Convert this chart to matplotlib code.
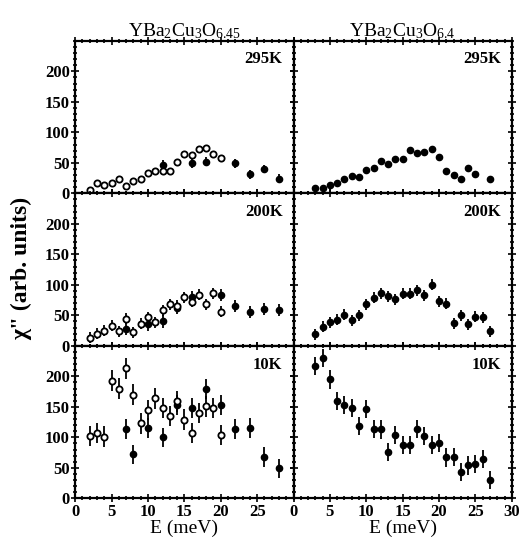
import matplotlib.pyplot as plt
from matplotlib.ticker import MultipleLocator

plt.rcParams["font.family"] = ["Liberation Serif", "DejaVu Serif"]
plt.rcParams["font.weight"] = "bold"
plt.rcParams["mathtext.default"] = "regular"

titles = ["YBa$_2$Cu$_3$O$_{6.45}$", "YBa$_2$Cu$_3$O$_{6.4}$"]
temps = ["295K", "200K", "10K"]

# YBa2Cu3O6.45 -- open circles (one run) and filled circles (another)
e45_open = [2, 3, 4, 5, 6, 7, 8, 9, 10, 11, 12, 13, 14, 15, 16, 17, 18, 19, 20]
c45_295_open = [5, 17, 13, 17, 24, 12, 20, 24, 33, 36, 36, 36, 52, 64, 62, 72, 75, 64, 58]
c45_200_open = [13, 20, 25, 33, 24, 44, 22, 36, 47, 39, 58, 68, 66, 80, 72, 84, 68, 86, 56]
c45_10_open = [102, 107, 101, 193, 180, 213, 170, 123, 145, 164, 148, 135, 159, 129, 107, 140, 151, 148, 104]

e45_295_fill = [12, 16, 18, 22, 24, 26, 28]
c45_295_fill = [47, 49, 52, 49, 31, 40, 24]
e45_200_fill = [7, 10, 12, 14, 16, 20, 22, 24, 26, 28]
c45_200_fill = [27, 35, 40, 62, 80, 83, 65, 56, 60, 59]
e45_10_fill = [7, 8, 10, 12, 14, 16, 18, 20, 22, 24, 26, 28]
c45_10_fill = [114, 72, 115, 100, 153, 148, 179, 153, 114, 115, 68, 49]

# YBa2Cu3O6.4 -- filled circles
e64 = [3, 4, 5, 6, 7, 8, 9, 10, 11, 12, 13, 14, 15, 16, 17, 18, 19, 20, 21, 22, 23, 24, 25, 26, 27]
c64_295 = [9, 9, 14, 17, 24, 28, 26, 38, 41, 53, 48, 56, 56, 71, 66, 67, 72, 60, 37, 30, 24, 41, 32, None, 23]
c64_200 = [19, 31, 39, 43, 51, 42, 50, 68, 79, 86, 81, 76, 85, 85, 91, 83, 100, 73, 69, 37, 50, 35, 48, 47, 24]
c64_10 = [217, 230, 195, 160, 153, 148, 119, 147, 114, 113, 76, 104, 87, 87, 114, 102, 88, 91, 67, 68, 43, 54, 56, 64, 30]

err_open = [5, 9, 17]
err_fill = [7, 10, 16]
err_64 = [5, 9, 15]

left_data = [
    (c45_295_open, e45_295_fill, c45_295_fill),
    (c45_200_open, e45_200_fill, c45_200_fill),
    (c45_10_open, e45_10_fill, c45_10_fill),
]
right_data = [c64_295, c64_200, c64_10]

fig, axes = plt.subplots(3, 2, figsize=(5.26, 5.37), dpi=100, sharey=True)
fig.subplots_adjust(left=0.143, right=0.973, top=0.924, bottom=0.072,
                    wspace=0, hspace=0)

for r in range(3):
    ax = axes[r, 0]
    opn, ef, cf = left_data[r]
    ax.errorbar(ef, cf, yerr=err_fill[r], fmt="o", ms=4.5, color="black",
                mfc="black", elinewidth=1.3, capsize=0, zorder=3)
    ax.errorbar(e45_open, opn, yerr=err_open[r], fmt="o", ms=4.5, color="black",
                mfc="white", mew=1.3, elinewidth=1.3, capsize=0, zorder=4)

    ax = axes[r, 1]
    pts = [(e, c) for e, c in zip(e64, right_data[r]) if c is not None]
    ax.errorbar([p[0] for p in pts], [p[1] for p in pts], yerr=err_64[r], fmt="o",
                ms=4.5, color="black", elinewidth=1.3, capsize=0, zorder=3)

for r in range(3):
    for c in range(2):
        ax = axes[r, c]
        ax.set_xlim(0, 30)
        ax.set_ylim(0, 250)
        ax.xaxis.set_major_locator(MultipleLocator(5))
        ax.xaxis.set_minor_locator(MultipleLocator(1))
        ax.yaxis.set_minor_locator(MultipleLocator(10))
        ax.set_yticks([0, 50, 100, 150, 200])
        ax.tick_params(which="both", direction="inout", top=True, right=True,
                       width=1.2, labelsize=12)
        ax.tick_params(which="major", length=6)
        ax.tick_params(which="minor", length=3)
        ax.tick_params(axis="x", pad=1)
        ax.tick_params(axis="y", pad=1)
        for s in ax.spines.values():
            s.set_linewidth(1.6)
        ax.text(0.95, 0.93, temps[r], transform=ax.transAxes, ha="right",
                va="top", fontsize=12, fontweight="bold")
        if r < 2:
            ax.tick_params(labelbottom=False)
        if c == 1:
            ax.tick_params(labelleft=False)
axes[0, 0].set_title(titles[0], fontsize=14, pad=3)
axes[0, 1].set_title(titles[1], fontsize=14, pad=3)

axes[2, 0].set_xticks([0, 5, 10, 15, 20, 25])
axes[2, 0].set_xlim(0, 30)
for c in range(2):
    axes[2, c].set_xlabel("E (meV)", fontsize=14, labelpad=0)
fig.text(0.04, 0.5, "χ\" (arb. units)", rotation=90, ha="center",
         va="center", fontsize=17, fontweight="bold")

fig.savefig("out.png", dpi=100)
